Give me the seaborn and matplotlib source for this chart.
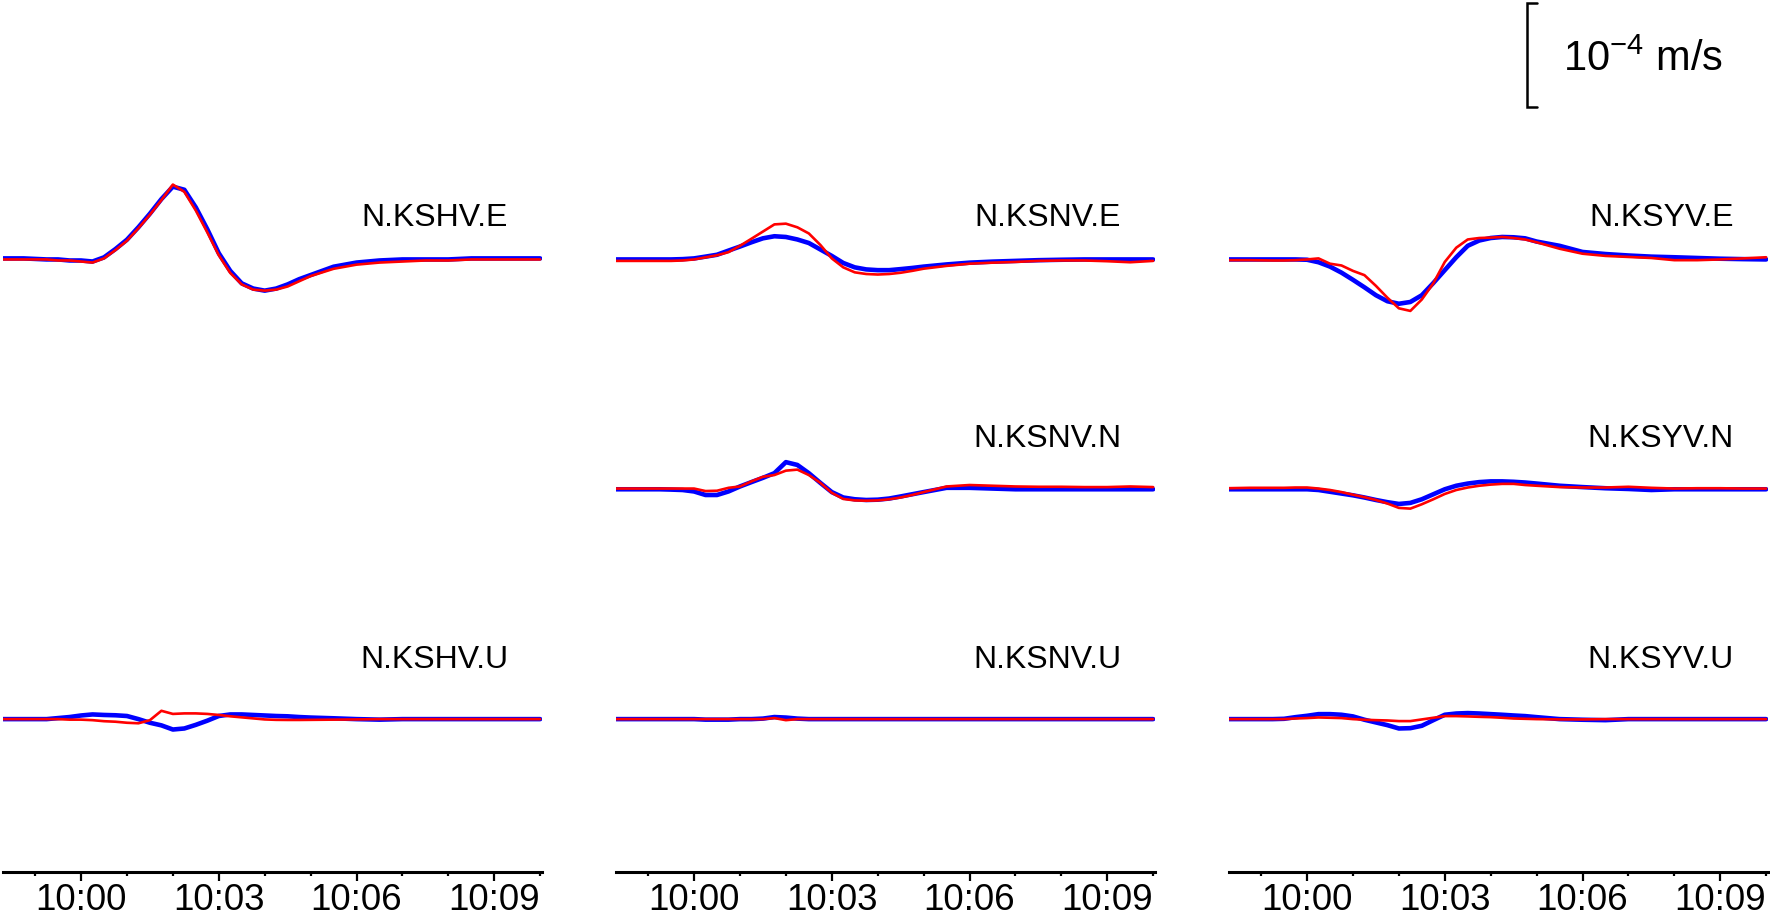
import matplotlib
matplotlib.use("Agg")
import matplotlib.pyplot as plt
from matplotlib.ticker import FixedLocator, FixedFormatter, MultipleLocator
import pandas as pd
import seaborn as sns

# ---------------- data (values in 1e-4 m/s, time in minutes after 10:00) ----------------
T_MIN = [-1.75, -1.25, -0.75, -0.5, -0.25, 0.0, 0.25, 0.5, 0.75, 1.0, 1.25, 1.5,
         1.75, 2.0, 2.25, 2.5, 2.75, 3.0, 3.25, 3.5, 3.75, 4.0, 4.25, 4.5,
         4.75, 5.0, 5.5, 6.0, 6.5, 7.0, 7.5, 8.0, 8.5, 9.0, 9.5, 10.0]

STATIONS = ["N.KSHV", "N.KSNV", "N.KSYV"]
COMPONENTS = ["E", "N", "U"]
TICK_MINUTES = [0, 3, 6, 9]
TICK_LABELS = ["10:00", "10:03", "10:06", "10:09"]
SCALE_LABEL = r"$\mathregular{10^{-4}}$ m/s"

KSHV_E_BLUE = [0.01, 0.01, 0.00, 0.00, -0.01, -0.01, -0.02, 0.02, 0.10, 0.19, 0.31, 0.44,
               0.58, 0.70, 0.67, 0.50, 0.29, 0.06, -0.11, -0.23, -0.28, -0.30, -0.28, -0.24,
               -0.19, -0.15, -0.07, -0.03, -0.01, 0.00, 0.00, 0.00, 0.01, 0.01, 0.01, 0.01]
KSHV_E_RED = [0.00, 0.00, 0.00, -0.01, -0.01, -0.02, -0.03, 0.01, 0.09, 0.18, 0.30, 0.43,
              0.57, 0.72, 0.65, 0.47, 0.26, 0.04, -0.13, -0.24, -0.29, -0.30, -0.29, -0.26,
              -0.21, -0.16, -0.09, -0.05, -0.03, -0.02, -0.01, -0.01, 0.00, 0.00, 0.00, 0.00]
KSHV_U_BLUE = [0.0, 0.0, 0.0, 0.01, 0.02, 0.035, 0.045, 0.04, 0.037, 0.03, 0.0, -0.035,
               -0.06, -0.10, -0.09, -0.055, -0.015, 0.03, 0.045, 0.045, 0.04, 0.035, 0.03, 0.027,
               0.02, 0.015, 0.008, 0.0, -0.005, 0.0, 0.0, 0.0, 0.0, 0.0, 0.0, 0.0]
KSHV_U_RED = [0.0, 0.0, 0.0, 0.0, -0.005, -0.005, -0.01, -0.02, -0.025, -0.035, -0.04, -0.01,
              0.08, 0.05, 0.055, 0.055, 0.05, 0.04, 0.027, 0.017, 0.007, -0.003, -0.007, -0.008,
              -0.008, -0.007, -0.005, -0.003, 0.0, 0.0, 0.0, 0.0, 0.0, 0.0, 0.0, 0.0]

KSNV_E_BLUE = [0.0, 0.0, 0.0, 0.0, 0.003, 0.01, 0.027, 0.045, 0.085, 0.124, 0.165, 0.203,
               0.223, 0.216, 0.192, 0.158, 0.096, 0.034, -0.034, -0.076, -0.096, -0.103, -0.103, -0.093,
               -0.082, -0.069, -0.048, -0.031, -0.021, -0.014, -0.007, -0.003, 0.0, 0.0, 0.0, 0.0]
KSNV_E_RED = [-0.014, -0.014, -0.014, -0.014, -0.01, 0.0, 0.02, 0.04, 0.07, 0.131, 0.199, 0.268,
              0.337, 0.344, 0.309, 0.25, 0.14, 0.01, -0.076, -0.124, -0.14, -0.145, -0.14, -0.128,
              -0.11, -0.089, -0.062, -0.041, -0.031, -0.024, -0.014, -0.01, -0.01, -0.017, -0.027, -0.014]
KSNV_N_BLUE = [0.0, 0.0, 0.0, -0.003, -0.007, -0.021, -0.055, -0.055, -0.021, 0.027, 0.069, 0.11,
               0.155, 0.261, 0.234, 0.155, 0.062, -0.027, -0.079, -0.096, -0.103, -0.1, -0.089, -0.069,
               -0.048, -0.027, 0.014, 0.014, 0.007, 0.0, 0.0, 0.0, 0.0, 0.0, 0.0, 0.0]
KSNV_N_RED = [0.007, 0.007, 0.007, 0.007, 0.007, 0.007, -0.017, -0.014, 0.014, 0.027, 0.076, 0.12,
              0.137, 0.179, 0.189, 0.137, 0.062, -0.034, -0.093, -0.107, -0.11, -0.107, -0.096, -0.079,
              -0.055, -0.027, 0.027, 0.041, 0.034, 0.027, 0.024, 0.024, 0.021, 0.021, 0.027, 0.021]
KSNV_U_BLUE = [0.0, 0.0, 0.0, 0.0, 0.0, 0.0, -0.005, -0.005, -0.005, 0.0, 0.0, 0.005,
               0.02, 0.015, 0.005, 0.0, 0.0, 0.0, 0.0, 0.0, 0.0, 0.0, 0.0, 0.0,
               0.0, 0.0, 0.0, 0.0, 0.0, 0.0, 0.0, 0.0, 0.0, 0.0, 0.0, 0.0]
KSNV_U_RED = [0.0, 0.0, 0.0, 0.0, 0.0, 0.0, 0.0, 0.0, 0.0, 0.0, 0.0, 0.0,
              0.01, -0.01, 0.0, 0.0, 0.0, 0.0, 0.0, 0.0, 0.0, 0.0, 0.0, 0.0,
              0.0, 0.0, 0.0, 0.0, 0.0, 0.0, 0.0, 0.0, 0.0, 0.0, 0.0, 0.0]

KSYV_E_BLUE = [0.0, 0.0, 0.0, 0.0, 0.0, -0.003, -0.027, -0.069, -0.127, -0.196, -0.268, -0.344,
               -0.402, -0.426, -0.409, -0.344, -0.227, -0.103, 0.021, 0.131, 0.182, 0.206, 0.216, 0.213,
               0.203, 0.172, 0.131, 0.072, 0.052, 0.038, 0.027, 0.021, 0.014, 0.007, 0.003, 0.0]
KSYV_E_RED = [-0.007, -0.007, -0.01, -0.01, -0.007, 0.0, 0.01, -0.041, -0.058, -0.11, -0.151, -0.254,
              -0.368, -0.47, -0.495, -0.385, -0.23, -0.024, 0.113, 0.192, 0.206, 0.21, 0.216, 0.206,
              0.192, 0.165, 0.103, 0.055, 0.034, 0.024, 0.014, -0.007, -0.007, 0.0, 0.01, 0.021]
KSYV_N_BLUE = [0.0, 0.0, 0.0, 0.0, 0.0, 0.0, -0.007, -0.024, -0.041, -0.058, -0.079, -0.103,
               -0.124, -0.141, -0.131, -0.096, -0.048, 0.0, 0.034, 0.055, 0.069, 0.076, 0.076, 0.072,
               0.065, 0.055, 0.034, 0.021, 0.01, 0.003, -0.007, 0.0, 0.0, 0.0, 0.0, 0.0]
KSYV_N_RED = [0.01, 0.014, 0.014, 0.014, 0.017, 0.017, 0.007, -0.007, -0.027, -0.052, -0.076, -0.103,
              -0.137, -0.179, -0.186, -0.144, -0.096, -0.045, -0.007, 0.017, 0.034, 0.045, 0.052, 0.052,
              0.041, 0.034, 0.021, 0.017, 0.017, 0.024, 0.014, 0.007, 0.01, 0.01, 0.007, 0.007]
KSYV_U_BLUE = [0.0, 0.0, 0.0, 0.003, 0.019, 0.032, 0.048, 0.048, 0.042, 0.026, -0.006, -0.032,
               -0.058, -0.09, -0.087, -0.064, -0.01, 0.042, 0.054, 0.058, 0.054, 0.048, 0.042, 0.035,
               0.029, 0.019, 0.0, -0.006, -0.01, 0.0, 0.0, 0.0, 0.0, 0.0, 0.0, 0.0]
KSYV_U_RED = [0.0, 0.0, 0.0, 0.0, 0.006, 0.01, 0.016, 0.013, 0.01, 0.0, -0.006, -0.01,
              -0.013, -0.019, -0.019, -0.003, 0.013, 0.029, 0.029, 0.026, 0.022, 0.019, 0.013, 0.006,
              0.003, 0.0, -0.003, -0.003, 0.0, 0.0, 0.0, 0.0, 0.0, 0.0, 0.0, 0.0]

TRACES = {
    ("N.KSHV", "E"): (KSHV_E_BLUE, KSHV_E_RED),
    ("N.KSHV", "U"): (KSHV_U_BLUE, KSHV_U_RED),
    ("N.KSNV", "E"): (KSNV_E_BLUE, KSNV_E_RED),
    ("N.KSNV", "N"): (KSNV_N_BLUE, KSNV_N_RED),
    ("N.KSNV", "U"): (KSNV_U_BLUE, KSNV_U_RED),
    ("N.KSYV", "E"): (KSYV_E_BLUE, KSYV_E_RED),
    ("N.KSYV", "N"): (KSYV_N_BLUE, KSYV_N_RED),
    ("N.KSYV", "U"): (KSYV_U_BLUE, KSYV_U_RED),
}

# ---------------- layout / style ----------------
OFFSET = {"E": 5.89, "N": 3.68, "U": 1.47}      # trace baselines (1e-4 m/s units)
LABEL_Y = {"E": 6.21, "N": 4.085, "U": 1.96}
LABEL_X = 9.30
XLIM = (-1.70, 10.04)
W, H = 1770, 919
PX_PER_UNIT = 104.0
AX_BOTTOM_PX = 872
COL_LEFT_PX = [3, 616, 1229]
COL_WIDTH_PX = 539

sns.set_theme(style="white")
plt.rcParams["font.family"] = ["Liberation Sans", "DejaVu Sans"]
plt.rcParams["mathtext.fontset"] = "custom"
plt.rcParams["mathtext.rm"] = "Liberation Sans"
plt.rcParams["text.color"] = "black"
plt.rcParams["xtick.color"] = "black"

fig = plt.figure(figsize=(W / 100, H / 100), dpi=100)
fig.patch.set_facecolor("white")

axes = []
for ci, station in enumerate(STATIONS):
    ax = fig.add_axes([COL_LEFT_PX[ci] / W, (H - AX_BOTTOM_PX) / H,
                       COL_WIDTH_PX / W, AX_BOTTOM_PX / H])
    ax.set_facecolor("none")
    for comp in COMPONENTS:
        if (station, comp) not in TRACES:
            continue
        blue, red = TRACES[(station, comp)]
        df = pd.DataFrame({"t": T_MIN,
                           "blue": [v + OFFSET[comp] for v in blue],
                           "red": [v + OFFSET[comp] for v in red]})
        sns.lineplot(data=df, x="t", y="blue", ax=ax, color="#0000ff", linewidth=3.3,
                     estimator=None, sort=False, legend=False)
        sns.lineplot(data=df, x="t", y="red", ax=ax, color="#ff0000", linewidth=1.9,
                     estimator=None, sort=False, legend=False)
        ax.text(LABEL_X, LABEL_Y[comp], f"{station}.{comp}", ha="right", va="baseline",
                fontsize=23, color="black")
    ax.set_xlim(*XLIM)
    ax.set_ylim(0, AX_BOTTOM_PX / PX_PER_UNIT)
    ax.set_xlabel("")
    ax.set_ylabel("")
    ax.set_yticks([])
    for s in ["top", "left", "right"]:
        ax.spines[s].set_visible(False)
    ax.spines["bottom"].set_color("black")
    ax.spines["bottom"].set_linewidth(2.2)
    ax.xaxis.set_major_locator(FixedLocator(TICK_MINUTES))
    ax.xaxis.set_major_formatter(FixedFormatter(TICK_LABELS))
    ax.xaxis.set_minor_locator(MultipleLocator(1))
    ax.tick_params(axis="x", which="both", bottom=True, direction="out", colors="black",
                   width=1.6)
    ax.tick_params(axis="x", which="major", length=6.5, labelsize=26.5, pad=1.5)
    ax.tick_params(axis="x", which="minor", length=3.2)
    axes.append(ax)

# scale bar: 1e-4 m/s
ax = axes[2]
bar_x, bar_y0, serif = 4.78, 7.356, 0.22
bar_y1 = bar_y0 + 1.0
ax.plot([bar_x + serif, bar_x, bar_x, bar_x + serif], [bar_y0, bar_y0, bar_y1, bar_y1],
        color="black", linewidth=1.8, clip_on=False, solid_joinstyle="miter")
ax.text(5.58, 7.70, SCALE_LABEL, fontsize=30, ha="left", va="baseline", color="black")

fig.savefig("out.png", dpi=100, facecolor="white")
